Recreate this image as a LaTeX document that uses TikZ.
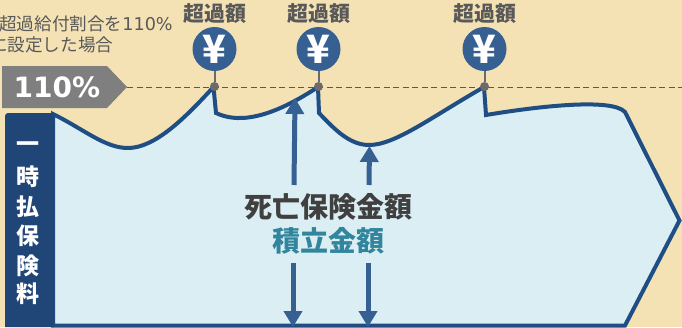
\documentclass[tikz,border=0pt]{standalone}
\usepackage{fontspec}
\setmainfont{Noto Sans CJK JP}
\newfontfamily\latinfont{DejaVu Sans}
\usetikzlibrary{arrows.meta}
\definecolor{bgsand}{HTML}{F4E2B5}
\definecolor{areablue}{HTML}{DBEEF4}
\definecolor{linenavy}{HTML}{1F4E85}
\definecolor{boxnavy}{HTML}{1F4677}
\definecolor{coinblue}{HTML}{376092}
\definecolor{markgray}{HTML}{6F6A6A}
\definecolor{textgray}{HTML}{595959}
\definecolor{ratetext}{HTML}{7F7F7F}
\definecolor{reserveteal}{HTML}{31859C}
\tikzset{
  yen/.style={circle,fill=coinblue,minimum size=44pt,inner sep=0pt,text=white,font=\fontsize{39}{39}\selectfont\bfseries},
  dot/.style={circle,fill=markgray,minimum size=9pt,inner sep=0pt},
  over/.style={text=textgray,font=\fontsize{21}{21}\selectfont\bfseries},
  vchar/.style={text=white,font=\fontsize{23}{23}\selectfont\bfseries},
  note/.style={anchor=west,inner sep=0pt,text=textgray,font=\fontsize{17.6}{17.6}\selectfont},
  amount/.style={line width=5pt,coinblue,-{Triangle[length=16pt,width=18pt]}},
}
\begin{document}
\begin{tikzpicture}[x=1pt,y=-1pt]
  \useasboundingbox[fill=bgsand] (0,0) rectangle (682,327);
  % area under the curve
  \draw[line width=4pt,linenavy,fill=areablue,line join=miter]
    (53,114) .. controls (85,130) and (105,148) .. (128,148)
    .. controls (155,148) and (185,118) .. (213.5,87)
    -- (216,113) .. controls (235,122) and (265,122) .. (318,87)
    -- (319,113) .. controls (335,130) and (350,145) .. (369,145)
    .. controls (395,145) and (430,118) .. (484,87)
    -- (486,115) .. controls (540,106) and (612,98) .. (625,112)
    -- (679.5,220.5) -- (625,325.5) -- (53,325.5) -- cycle;
  \draw[dashed,textgray,line width=1pt,dash pattern=on 6pt off 3.5pt] (127,87) -- (682,87);
  % left box
  \fill[boxnavy] (54,327) -- (5,327) [rounded corners=3pt] -- (5,113) [sharp corners] -- (54,113) -- cycle;
  \node[vchar] (v1) at (28,147) {一};
  \node[vchar] (v2) at (28,177) {時};
  \node[vchar] (v3) at (28,207) {払};
  \node[vchar] (v4) at (28,236) {保};
  \node[vchar] (v5) at (28,266) {険};
  \node[vchar] (v6) at (28,294) {料};
  % rate
  \fill[ratetext] (2,66) -- (107,66) -- (127,87) -- (107,108) -- (2,108) -- cycle;
  \node[text=white,font=\fontsize{28}{28}\latinfont\bfseries] (rate) at (57,87) {110\%};
  \node[note] (note1) at (-1,24) {超過給付割合を{\latinfont 110\%}};
  \node[note] (note2) at (-10,45) {に設定した場合};
  % excess marks
  \node[yen] (yenA) at (214.5,49) {¥};
  \node[yen] (yenB) at (318.5,49) {¥};
  \node[yen] (yenC) at (484.5,49) {¥};
  \node[dot] (dotA) at (214.5,86.5) {};
  \node[dot] (dotB) at (318.5,86.5) {};
  \node[dot] (dotC) at (484.5,86.5) {};
  \draw[markgray,line width=2pt] (yenA) -- (dotA);
  \draw[markgray,line width=2pt] (yenB) -- (dotB);
  \draw[markgray,line width=2pt] (yenC) -- (dotC);
  \node[over] (overA) at (214.5,14) {超過額};
  \node[over] (overB) at (318.5,14) {超過額};
  \node[over] (overC) at (484.5,14) {超過額};
  % amounts
  \coordinate (upAa) at (294,185);
  \coordinate (upAb) at (295,98);
  \coordinate (upBa) at (369,185);
  \coordinate (upBb) at (369.5,146);
  \coordinate (dnAa) at (293,263);
  \coordinate (dnAb) at (293,327);
  \coordinate (dnBa) at (368,263);
  \coordinate (dnBb) at (368,327);
  \draw[amount] (upAa) -- (upAb);
  \draw[amount] (upBa) -- (upBb);
  \draw[amount] (dnAa) -- (dnAb);
  \draw[amount] (dnBa) -- (dnBb);
  \node[text=black!75,font=\fontsize{28}{28}\selectfont\bfseries] (death) at (328.5,207) {死亡保険金額};
  \node[text=reserveteal,font=\fontsize{28}{28}\selectfont\bfseries] (reserve) at (328,241) {積立金額};
\end{tikzpicture}
\end{document}
